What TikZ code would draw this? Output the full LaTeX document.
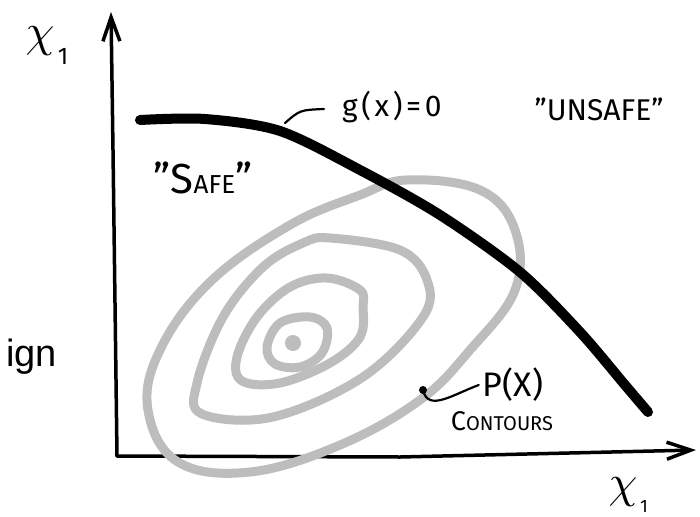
\documentclass[tikz,border=0pt]{standalone}
\usepackage{fontspec}
\setmainfont{Fira Sans}
\newfontfamily\arialfont{Liberation Sans}
\usetikzlibrary{arrows.meta}
\definecolor{contourgray}{HTML}{BDBDBD}
\begin{document}
\begin{tikzpicture}[x=1pt,y=-1pt,
  axis/.style={line width=3.5pt, line cap=round, line join=round,
    -{Straight Barb[length=24pt,width=17pt,line width=3.5pt]}},
  limit/.style={line width=10pt, line cap=round, line join=round},
  contour/.style={draw=contourgray, line width=9pt, line cap=round, line join=round},
  leader/.style={line width=2.2pt, line cap=round},
  hand/.style={inner sep=0pt},
  axlabel/.style={inner sep=0pt, scale=4.6},
  sublabel/.style={inner sep=0pt}
]
\useasboundingbox (0,0) rectangle (700,516);

% axes
\coordinate (O) at (117,456);
\coordinate (ytip) at (111,12);
\coordinate (xtip) at (696,450);
\draw[axis] (O) -- (113,150) -- (ytip);
\draw[axis] (O) -- (400,457) -- (xtip);

% contours
\draw[contour] plot[smooth cycle, tension=0.65] coordinates {
  (407,180) (480,190) (515,230) (515,290) (470,350) (420,400) (340,445)
  (250,472) (178,462) (148,410) (160,350) (210,282) (290,225) (360,195)};
\draw[contour] plot[smooth cycle, tension=0.6] coordinates {
  (330,238) (400,250) (427,280) (423,317) (363,377) (273,417) (202,414)
  (197,383) (223,317) (263,267) (303,243)};
\draw[contour] plot[smooth cycle, tension=0.6] coordinates {
  (327,278) (360,290) (363,307) (360,337) (330,363) (280,383) (242,381)
  (237,357) (257,317) (290,287)};
\draw[contour] plot[smooth cycle, tension=0.6] coordinates {
  (310,317) (327,328) (322,353) (300,367) (275,364) (267,347) (280,323)};
\fill[contourgray] (293,343) circle (8);

% limit state curve
\draw[limit] plot[smooth, tension=0.5] coordinates {
  (140,120) (205,119) (280,131) (360,170) (440,215) (520,272) (580,332) (625,385) (648,412)};

% axis labels
\node[axlabel] (ylab) at (40,41) {$\chi$};
\node[sublabel, font=\fontsize{24}{26}\selectfont] (ylab1) at (63,56) {1};
\node[axlabel] (xlab) at (623,492) {$\chi$};
\node[sublabel, font=\fontsize{18}{20}\selectfont] (xlab1) at (644,506) {1};

% g(x)=0
\node[hand, anchor=west, font=\fontsize{30}{32}\selectfont\addfontfeature{LetterSpace=12}] (g) at (342,107) {g(x)=0};
\coordinate (gstart) at (285,123);
\draw[leader] (gstart) .. controls (300,110) .. ([xshift=-18pt,yshift=-2pt]g.west);

% regions
\node[hand, font=\fontsize{30}{32}\selectfont] (unsafe) at (599,109) {"UNSAFE"};
\node[hand, font=\fontsize{42}{44}\selectfont] (safe) at (203,178) {"S{\fontsize{26}{28}\selectfont AFE}"};

% contour label
\node[hand, font=\fontsize{34}{36}\selectfont] (px) at (513,385) {P(X)};
\node[hand, font=\fontsize{27}{29}\selectfont] (cont) at (502,421) {C{\fontsize{20}{22}\selectfont ONTOURS}};
\fill (423,390) circle (4) coordinate (dot);
\draw[leader] (dot) .. controls (428,412) and (452,395) .. ([xshift=-4pt]px.west);

% cut-off caption text
\node[inner sep=0pt, anchor=east, font={\arialfont\fontsize{38}{40}\selectfont}] (ign) at (57,357) {ign};
\end{tikzpicture}
\end{document}
